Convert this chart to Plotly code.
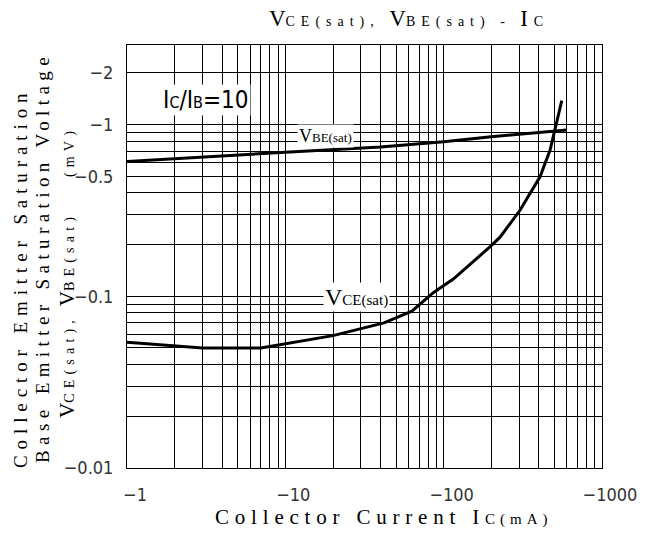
import plotly.graph_objects as go

# ---- data ----
ic_vbe = [1, 3, 10, 40, 100, 200, 470, 600]
vbe_sat = [0.61, 0.65, 0.69, 0.74, 0.795, 0.85, 0.91, 0.93]

ic_vce = [1, 3, 7, 20, 42, 63, 86, 115, 196, 227, 304, 406, 470, 505, 557]
vce_sat = [0.054, 0.050, 0.050, 0.059, 0.070, 0.082, 0.105, 0.126, 0.194, 0.221,
           0.318, 0.497, 0.711, 0.93, 1.38]

x_tickvals = [1, 10, 100, 1000]
x_ticktext = ["\u22121", "\u221210", "\u2212100", "\u22121000"]
y_tickvals = [0.01, 0.1, 0.5, 1, 2]
y_ticktext = ["\u22120.01", "\u22120.1", "\u22120.5", "\u22121", "\u22122"]

# minor grid positions (2..9 per decade)
x_minor = [m * 10 ** d for d in range(0, 3) for m in range(2, 10)]
y_minor = [m * 10 ** d for d in range(-2, 1) for m in range(2, 10)]

SERIF = "Liberation Serif, Times New Roman, serif"
NARROW = "Liberation Sans Narrow, DejaVu Sans Condensed, Arial Narrow, sans-serif"

fig = go.Figure()
fig.add_trace(go.Scatter(x=ic_vbe, y=vbe_sat, mode="lines",
                         line=dict(color="black", width=3), name="VBE(sat)"))
fig.add_trace(go.Scatter(x=ic_vce, y=vce_sat, mode="lines",
                         line=dict(color="black", width=3), name="VCE(sat)"))

W, H = 668, 533
L, R, T, B = 127, 66, 45, 65
pw, ph = W - L - R, H - T - B

def px2paper(px, py):
    return (px - L) / pw, (H - B - py) / ph

axis_common = dict(
    type="log", showline=True, mirror=True, linecolor="black", linewidth=1,
    showgrid=True, gridcolor="black", gridwidth=1, zeroline=False,
    ticks="", tickfont=dict(family=NARROW, size=18, color="#333"),
)

fig.update_xaxes(**axis_common, range=[0, 3], tickmode="array",
                 tickvals=x_tickvals, ticktext=x_ticktext,
                 ticklabelshift=8, ticklabelstandoff=10,
                 minor=dict(tickmode="array", tickvals=x_minor, showgrid=True,
                            gridcolor="black", gridwidth=1, ticks=""))
fig.update_yaxes(**axis_common, range=[-2, 0.4636], tickmode="array",
                 tickvals=y_tickvals, ticktext=y_ticktext,
                 ticklabelstandoff=9,
                 minor=dict(tickmode="array", tickvals=y_minor, showgrid=True,
                            gridcolor="black", gridwidth=1, ticks=""))

small = "font-size:14px;letter-spacing:6px"
small_y = "font-size:14px;letter-spacing:5.2px"

annotations = []

def add_text(text, px, py, size, family=SERIF, angle=0, bg=None):
    x, y = px2paper(px, py)
    annotations.append(dict(
        text=text, x=x, y=y, xref="paper", yref="paper", showarrow=False,
        xanchor="center", yanchor="middle", textangle=angle,
        font=dict(family=family, size=size, color="black"),
        bgcolor=bg, borderpad=1))

# x axis title
add_text("<span style='letter-spacing:5.8px'>Collector Current I</span>"
         "<span style='font-size:15px;letter-spacing:5px'>C(mA)</span>",
         384, 517, 21)

# y axis title lines
add_text("<span style='letter-spacing:5.9px'>Collector Emitter Saturation</span>",
         20, 278, 19, angle=-90)
add_text("<span style='letter-spacing:5.4px'>Base Emitter Saturation Voltage</span>",
         42, 258, 19, angle=-90)
add_text("V<span style='" + small_y + "'>CE(sat), </span>V"
         "<span style='" + small_y + "'>BE(sat)\u00a0\u00a0\u00a0\u00a0(mV)</span>",
         67, 272, 21, angle=-90)

# in-plot labels
add_text("I<span style='font-size:16px'>C</span>/I<span style='font-size:16px'>B</span>=10",
         206, 100, 24, family=NARROW, bg="white")
add_text("V<span style='font-size:13px'>BE(sat)</span>", 325, 136, 18, bg="white")
add_text("V<span style='font-size:15px'>CE(sat)</span>", 356, 297, 24, bg="white")

fig.update_layout(
    width=W, height=H,
    margin=dict(l=L, r=R, t=T, b=B),
    paper_bgcolor="white", plot_bgcolor="white",
    showlegend=False,
    title=dict(
        text="V<span style='" + small + "'>CE(sat), </span>V"
             "<span style='" + small + "'>BE(sat) - </span>I\u00a0<span style='font-size:14px'>C</span>",
        x=406 / W, xanchor="center", y=1 - 18 / H, yanchor="middle",
        font=dict(family=SERIF, size=23, color="black")),
    annotations=annotations,
)

fig.write_html("out.html")
